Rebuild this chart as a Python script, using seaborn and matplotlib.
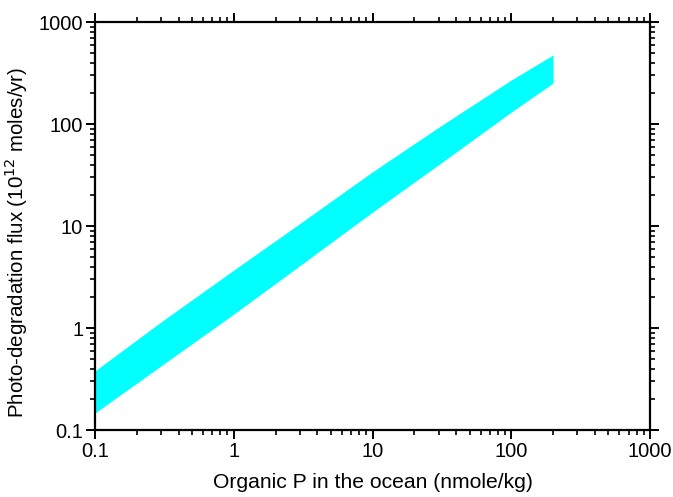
import matplotlib
matplotlib.use("Agg")
import matplotlib.pyplot as plt
import seaborn as sns

# Organic P (nmole/kg) and flux band edges (10^12 moles/yr)
organic_p = [0.1, 0.3, 1, 3, 10, 30, 100, 200]
flux_upper = [0.38, 1.15, 3.7, 10.6, 34, 93, 270, 475]
flux_lower = [0.147, 0.427, 1.37, 4.1, 13.7, 40, 131, 252]

x_ticks = [0.1, 1, 10, 100, 1000]
x_ticklabels = ["0.1", "1", "10", "100", "1000"]
y_ticks = [0.1, 1, 10, 100, 1000]
y_ticklabels = ["0.1", "1", "10", "100", "1000"]

sns.set_style("ticks")
plt.rcParams['font.family'] = ['Liberation Sans', 'DejaVu Sans']
plt.rcParams['text.color'] = 'black'
plt.rcParams['axes.labelcolor'] = 'black'

fig = plt.figure(figsize=(6.73, 4.97), dpi=100)
ax = fig.add_axes([0.1412, 0.1348, 0.8247, 0.8209])

ax.fill_between(organic_p, flux_lower, flux_upper, color="#00ffff", linewidth=0)

ax.set_xscale("log")
ax.set_yscale("log")
ax.set_xlim(0.1, 1000)
ax.set_ylim(0.1, 1000)
ax.set_xticks(x_ticks)
ax.set_xticklabels(x_ticklabels)
ax.set_yticks(y_ticks)
ax.set_yticklabels(y_ticklabels)

for side in ["left", "right", "top", "bottom"]:
    ax.spines[side].set_visible(True)
    ax.spines[side].set_linewidth(1.6)
    ax.spines[side].set_color("black")

ax.tick_params(which="both", direction="out", top=True, right=True,
               colors="black", labelcolor="black", labelsize=14.5)
ax.tick_params(which="major", length=6.5, width=1.4, pad=2)
ax.tick_params(which="minor", length=3.5, width=1.2)

ax.set_xlabel("Organic P in the ocean (nmole/kg)", fontsize=15.2, labelpad=9)
ax.set_ylabel("Photo-degradation flux (10$^{12}$ moles/yr)", fontsize=14.8)
ax.yaxis.set_label_coords(-0.118, 0.46)

fig.savefig("out.png", dpi=100)
